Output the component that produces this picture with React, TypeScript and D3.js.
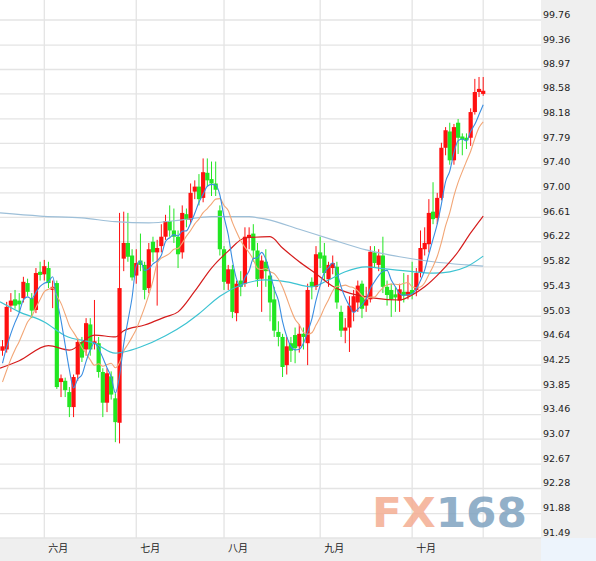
import React from 'react';
import * as d3 from 'd3';

const W = 596;
const H = 561;
const PLOT_RIGHT = 541;
const PLOT_BOTTOM = 538;

const yTickLabels = ['99.76','99.36','98.97','98.58','98.18','97.79','97.40','97.00','96.61','96.22','95.82','95.43','95.03','94.64','94.25','93.85','93.46','93.07','92.67','92.28','91.88','91.49'];
const monthLabels = ['六月','七月','八月','九月','十月'];
const monthEndIdx = [10, 32, 53, 76, 98, 115];

const opens = [94.48,94.50,95.20,95.30,95.28,95.32,95.56,95.32,95.13,95.74,95.70,95.80,95.45,95.56,93.98,94.00,93.82,93.58,94.10,94.62,94.50,94.90,94.60,94.60,94.14,93.65,94.07,93.72,93.33,
95.95,96.20,96.00,95.68,95.92,95.85,95.48,96.22,96.05,96.15,96.30,96.55,96.40,96.30,96.05,96.66,96.57,97.02,97.10,96.92,97.32,97.22,97.15,96.72,96.10,
95.55,95.78,95.08,95.60,95.55,96.28,96.35,96.08,95.63,95.90,95.68,95.30,94.78,94.70,94.25,94.60,94.73,94.55,94.75,94.60,95.58,95.50,96.05,
96.00,95.62,95.80,95.82,95.10,94.80,94.85,95.10,95.25,95.55,95.20,95.30,96.05,95.85,96.00,95.50,95.45,95.38,95.28,95.42,95.36,95.45,
95.45,95.72,96.10,96.18,96.70,96.60,96.92,97.72,97.98,97.52,98.12,97.90,97.88,97.88,98.29,98.61,98.58];
const highs = [94.65,95.26,95.40,95.45,95.40,95.66,95.63,95.40,95.80,95.90,95.93,95.90,95.60,95.60,94.10,94.05,93.90,94.10,94.68,94.70,95.00,95.00,95.29,94.70,94.20,94.20,94.15,93.80,96.68,
96.70,96.68,96.10,96.10,96.35,95.90,96.20,96.30,96.25,96.50,96.65,96.80,96.75,96.40,96.80,96.75,97.15,97.20,97.30,97.55,97.55,97.50,97.50,96.80,96.15,
95.85,95.85,95.60,95.75,96.45,96.45,96.50,96.20,96.00,96.10,95.75,95.50,94.95,94.75,94.70,94.70,94.85,94.90,94.85,95.55,95.65,96.15,96.30,
96.20,95.90,96.00,95.90,95.20,95.00,95.35,95.45,95.60,95.60,95.50,96.15,96.15,96.10,96.30,95.60,95.55,95.50,95.55,95.72,95.69,95.90,
95.80,96.40,96.45,96.90,97.17,97.00,97.80,98.05,98.12,98.10,98.18,97.95,97.95,98.35,98.82,98.85,98.85];
const lows = [94.40,94.45,95.10,95.15,95.10,95.25,95.35,95.00,95.08,95.60,95.60,95.48,95.16,93.87,93.74,93.74,93.42,93.42,94.00,94.30,94.40,94.40,94.50,94.05,93.42,93.50,93.70,93.02,93.00,
95.75,95.90,95.60,95.55,95.75,95.30,95.40,95.90,95.20,96.05,96.25,96.30,96.20,95.80,95.95,96.45,96.50,96.90,96.80,96.85,97.10,96.95,96.95,96.00,95.45,
95.45,95.00,94.95,95.35,95.50,96.10,95.90,95.50,95.10,95.50,94.95,94.70,94.55,94.06,94.10,94.30,94.28,94.45,94.50,94.25,95.30,95.45,95.80,
95.60,95.50,95.70,95.15,94.70,94.60,94.46,94.95,95.10,95.00,95.10,95.25,95.80,95.75,95.40,95.20,95.02,95.10,95.10,95.25,95.30,95.30,
95.35,95.65,96.00,96.05,96.50,96.50,96.88,97.60,97.45,97.45,97.62,97.60,97.70,97.75,98.25,98.53,98.55];
const closes = [94.55,95.18,95.28,95.20,95.22,95.58,95.42,95.12,95.72,95.69,95.83,95.56,95.50,93.90,94.04,93.85,93.58,94.06,94.62,94.37,94.92,94.50,94.63,94.14,93.65,94.12,93.78,93.34,95.48,
96.20,95.98,95.65,95.88,95.85,95.45,96.10,96.05,96.12,96.30,96.55,96.40,96.30,96.02,96.68,96.57,97.00,97.10,96.90,97.33,97.20,97.15,97.05,96.10,95.58,
95.78,95.10,95.55,95.50,96.30,96.33,96.08,95.62,95.92,95.75,95.25,94.80,94.70,94.22,94.55,94.48,94.52,94.75,94.70,95.45,95.50,96.02,95.95,
95.72,95.85,95.88,95.25,94.80,94.85,95.20,95.35,95.52,95.15,95.30,96.06,95.88,96.00,95.50,95.37,95.30,95.33,95.46,95.36,95.42,95.38,
95.72,96.12,96.20,96.68,96.58,96.92,97.72,98.00,97.52,98.05,97.88,97.85,97.84,98.29,98.61,98.66,98.63];
// closes before the visible window, used only to start the short moving averages
const preCloses = [93.3,93.5,93.7,93.9,94.0,93.9,94.2,94.3,94.45];

// longer moving averages: [candle index, value]
const ma30Pts: [number, number][] = [[-0.6,94.20],[4,94.32],[11,94.56],[16,94.49],[22,94.73],[27,94.70],[29,94.80],[34,94.89],[39,95.02],[42,95.10],[46,95.43],[50,95.80],[54,96.07],[58,96.28],[64,96.30],[67,96.12],[71,95.90],[75,95.71],[79,95.51],[83,95.40],[89,95.32],[95,95.29],[98,95.37],[101,95.50],[105,95.75],[109,96.06],[112,96.36],[115,96.63]];
const ma60Pts: [number, number][] = [[-0.6,95.26],[4,95.10],[10,94.94],[15,94.72],[22,94.60],[27,94.44],[29,94.46],[33,94.54],[39,94.72],[44,94.92],[47,95.07],[52,95.35],[57,95.53],[63,95.61],[68,95.58],[74,95.50],[78,95.61],[82,95.74],[87,95.82],[91,95.79],[97,95.75],[103,95.72],[107,95.74],[111,95.82],[115,95.99]];
const ma120Pts: [number, number][] = [[-0.6,96.68],[9,96.63],[19,96.60],[27,96.54],[35,96.52],[43,96.57],[50,96.62],[59,96.62],[63,96.58],[71,96.42],[79,96.25],[87,96.09],[95,95.98],[103,95.90],[111,95.85],[115,95.83]];

const UP = '#ff1010';
const DOWN = '#22e622';

export default function App() {
  const n = closes.length;
  const xs = d3.scaleLinear().domain([0, n - 1]).range([2.5, 483.2]);
  const ys = d3.scaleLinear().domain([91.49, 99.76]).range([PLOT_BOTTOM, 20]);

  const all = preCloses.concat(closes);
  const off = preCloses.length;
  const movAvg = (p: number) => closes.map((_, i) => [i, d3.mean(all.slice(i + off - p + 1, i + off + 1)) as number] as [number, number]);
  const ma5 = movAvg(5);
  const ma10 = movAvg(10);

  const line = d3.line<[number, number]>().x(d => xs(d[0])).y(d => ys(d[1])).curve(d3.curveMonotoneX);

  const bw = 4.2;

  return (
    <div style={{ position: 'fixed', left: 0, top: 0, width: W, height: H, background: '#fff' }}>
      <svg width={W} height={H} style={{ display: 'block' }}>
        <defs>
          <clipPath id="plot"><rect x={0} y={0} width={PLOT_RIGHT} height={PLOT_BOTTOM} /></clipPath>
        </defs>
        <rect x={0} y={0} width={W} height={H} fill="#fff" />
        {/* axis panels */}
        <rect x={PLOT_RIGHT} y={0} width={W - PLOT_RIGHT} height={PLOT_BOTTOM} fill="#efefef" />
        <rect x={0} y={PLOT_BOTTOM} width={PLOT_RIGHT} height={H - PLOT_BOTTOM} fill="#efefef" />
        <rect x={PLOT_RIGHT} y={PLOT_BOTTOM} width={W - PLOT_RIGHT} height={H - PLOT_BOTTOM} fill="#edf4fc" />

        {/* grid */}
        <g stroke="#e4e4e4" strokeWidth={1.3}>
          {yTickLabels.map(t => (
            <line key={t} x1={0} x2={PLOT_RIGHT} y1={ys(+t)} y2={ys(+t)} />
          ))}
          {monthEndIdx.map(i => (
            <line key={i} x1={xs(i)} x2={xs(i)} y1={0} y2={PLOT_BOTTOM} />
          ))}
        </g>

        {/* watermark */}
        <text x={372} y={527} fontFamily="DejaVu Sans" fontWeight="bold" fontSize={40} textLength={155} lengthAdjust="spacingAndGlyphs" opacity={0.85}>
          <tspan fill="#f4ad92">FX</tspan><tspan fill="#7fa3c0">168</tspan>
        </text>

        <g clipPath="url(#plot)">
          {/* candles */}
          {closes.map((c, i) => {
            const o = opens[i];
            const up = c >= o;
            const col = up ? UP : DOWN;
            const cx = xs(i);
            const top = ys(Math.max(o, c));
            const bot = ys(Math.min(o, c));
            return (
              <g key={i}>
                <line x1={cx} x2={cx} y1={ys(highs[i])} y2={ys(lows[i])} stroke={col} strokeWidth={1} />
                <rect x={cx - bw / 2} y={top} width={bw} height={Math.max(1.2, bot - top)} fill={col} />
              </g>
            );
          })}
          {/* moving averages */}
          <path d={line(ma120Pts) || ''} fill="none" stroke="#9dbfd8" strokeWidth={1.2} />
          <path d={line(ma60Pts) || ''} fill="none" stroke="#3cc3d2" strokeWidth={1.2} />
          <path d={line(ma30Pts) || ''} fill="none" stroke="#d51c1c" strokeWidth={1.2} />
          <path d={line(ma10) || ''} fill="none" stroke="#f2a676" strokeWidth={1.1} />
          <path d={line(ma5) || ''} fill="none" stroke="#3a8ee2" strokeWidth={1.1} />
        </g>

        {/* y labels */}
        <g fontFamily="DejaVu Sans" fontSize={9.5} fill="#222">
          {yTickLabels.map(t => (
            <text key={t} x={543} y={ys(+t) - 2.5}>{t}</text>
          ))}
        </g>
        {/* month labels */}
        <g fontFamily="'Noto Sans CJK SC', sans-serif" fontSize={10} fill="#222">
          {monthLabels.map((m, k) => (
            <text key={m} x={xs(monthEndIdx[k]) + 4} y={552}>{m}</text>
          ))}
        </g>
      </svg>
    </div>
  );
}
